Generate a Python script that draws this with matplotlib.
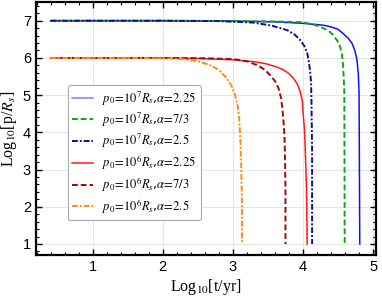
"""
Evolution of log10(p/R_s) against log10(t/yr) for two initial radii and three alpha values
"""
import matplotlib
matplotlib.use('Agg')
import matplotlib.pyplot as plt
from matplotlib.ticker import MultipleLocator

plt.rcParams['mathtext.fontset'] = 'stix'

# values: (log10 t, log10 p)
blue_x = [0.40, 2.00, 3.00, 3.60, 4.00, 4.29, 4.39, 4.50, 4.57, 4.65, 4.70, 4.74, 4.77, 4.79, 4.80, 4.805, 4.81]
blue_y = [7.00, 7.00, 6.99, 6.97, 6.93, 6.88, 6.84, 6.77, 6.66, 6.52, 6.39, 6.20, 5.95, 5.55, 5.06, 3.00, 1.00]

green_x = [0.40, 2.00, 3.00, 3.60, 4.00, 4.18, 4.29, 4.37, 4.43, 4.49, 4.53, 4.555, 4.57, 4.58, 4.59, 4.595]
green_y = [7.00, 7.00, 6.99, 6.98, 6.96, 6.88, 6.80, 6.72, 6.62, 6.46, 6.30, 6.10, 5.86, 5.50, 5.06, 1.00]

navy_x = [0.40, 2.00, 2.80, 3.29, 3.55, 3.77, 3.88, 3.96, 4.02, 4.06, 4.08, 4.10, 4.115, 4.12, 4.13, 4.13]
navy_y = [7.00, 7.00, 6.99, 6.95, 6.87, 6.75, 6.63, 6.48, 6.32, 6.13, 5.93, 5.68, 5.35, 4.96, 3.50, 1.00]

red_x = [0.40, 2.00, 2.60, 3.00, 3.30, 3.48, 3.62, 3.72, 3.80, 3.86, 3.92, 3.96, 3.99, 4.00, 4.02, 4.03, 4.05, 4.06]
red_y = [6.00, 6.00, 5.98, 5.95, 5.90, 5.84, 5.76, 5.68, 5.58, 5.46, 5.30, 5.10, 4.85, 4.56, 4.10, 3.67, 2.50, 1.00]

darkred_x = [0.40, 2.00, 2.60, 3.00, 3.20, 3.34, 3.45, 3.53, 3.60, 3.65, 3.69, 3.71, 3.73, 3.74, 3.75, 3.75]
darkred_y = [6.00, 6.00, 5.99, 5.97, 5.91, 5.81, 5.69, 5.54, 5.38, 5.19, 4.90, 4.56, 4.10, 3.67, 2.50, 1.00]

orange_x = [0.40, 1.50, 2.00, 2.29, 2.50, 2.67, 2.80, 2.91, 2.98, 3.03, 3.07, 3.09, 3.11, 3.12, 3.13, 3.13]
orange_y = [6.00, 6.00, 5.99, 5.97, 5.91, 5.81, 5.68, 5.46, 5.25, 5.01, 4.70, 4.38, 3.67, 3.00, 2.00, 1.00]

labels = [
    r'$p_0\!=\!10^7R_s$,$\alpha\!=\!2.25$',
    r'$p_0\!=\!10^7R_s$,$\alpha\!=\!7/3$',
    r'$p_0\!=\!10^7R_s$,$\alpha\!=\!2.5$',
    r'$p_0\!=\!10^6R_s$,$\alpha\!=\!2.25$',
    r'$p_0\!=\!10^6R_s$,$\alpha\!=\!7/3$',
    r'$p_0\!=\!10^6R_s$,$\alpha\!=\!2.5$',
]

fig = plt.figure(figsize=(3.82, 3.03), dpi=100)
ax = fig.add_axes([0.094, 0.158, 0.890, 0.835])

ax.plot(blue_x, blue_y, color='#1010ff', lw=1.1, label=labels[0])
ax.plot(green_x, green_y, color='#13a513', lw=1.4, ls=(0, (3, 1.5)), label=labels[1])
ax.plot(navy_x, navy_y, color='#10108f', lw=1.4, ls=(0, (3, 1, 1, 1)), label=labels[2])
ax.plot(red_x, red_y, color='#ff1a1a', lw=1.1, label=labels[3])
ax.plot(darkred_x, darkred_y, color='#9a0c0c', lw=1.4, ls=(0, (3, 1.5)), label=labels[4])
ax.plot(orange_x, orange_y, color='#ff8c10', lw=1.4, ls=(0, (3, 1, 1, 1)), label=labels[5])

ax.set_xlim(0.19, 5.04)
ax.set_ylim(0.7, 7.5)
ax.xaxis.set_major_locator(MultipleLocator(1))
ax.xaxis.set_minor_locator(MultipleLocator(0.2))
ax.yaxis.set_major_locator(MultipleLocator(1))
ax.yaxis.set_minor_locator(MultipleLocator(0.2))
ax.grid(True, which='major', color='#e6e6e6', lw=0.8)
ax.set_axisbelow(True)

ax.tick_params(which='both', direction='in', top=True, right=True, colors='black')
ax.tick_params(which='major', length=4, width=1.0, labelsize=10.5)
ax.tick_params(which='minor', length=2, width=0.8)
for lab in ax.get_xticklabels() + ax.get_yticklabels():
    lab.set_family('Liberation Sans')
for sp in ax.spines.values():
    sp.set_linewidth(1.6)

ax.set_xlabel(r'Log$_{10}$[t/yr]', family='Liberation Serif', fontsize=11.5, labelpad=2)
ax.set_ylabel(r'Log$_{10}$[p/$R_s$]', family='Liberation Serif', fontsize=11.5, labelpad=3)

leg = ax.legend(loc='upper left', bbox_to_anchor=(0.094, 0.672), borderaxespad=0,
                fontsize=9, handlelength=1.7, handletextpad=0.7, labelspacing=0.25,
                borderpad=0.35, frameon=True, fancybox=True, framealpha=1.0)
leg.get_frame().set_edgecolor('#aaaaaa')
leg.get_frame().set_linewidth(0.8)
# the reference draws the first legend line lighter than its curve
leg.get_lines()[0].set_color('#7d7dff')

plt.savefig('out.png', dpi=100)
